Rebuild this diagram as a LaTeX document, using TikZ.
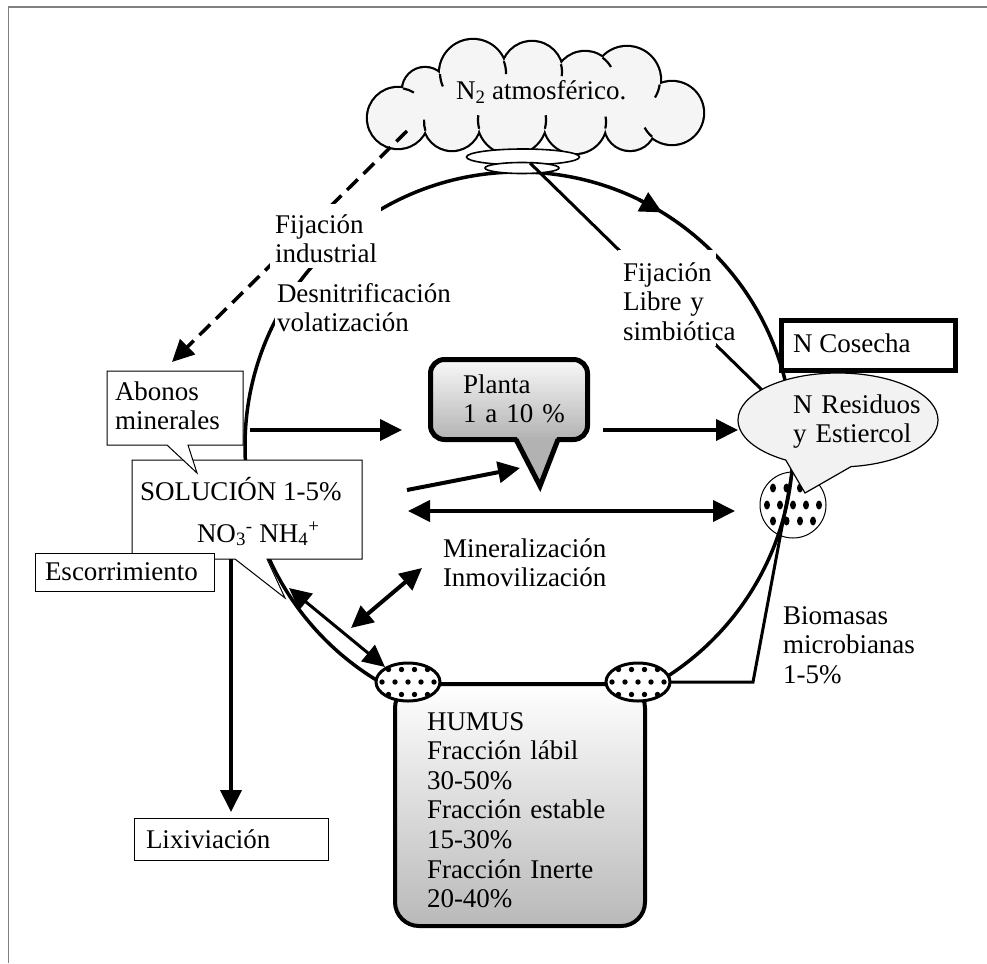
\documentclass[tikz,border=0pt]{standalone}
\usepackage{fontspec}
\setmainfont{Liberation Serif}
\usetikzlibrary{shapes.geometric,shapes.callouts,arrows.meta,calc}
% dotted fill of the two humus pools: rows of 4, 5 and 4 dots
\newcommand{\poolDots}[2]{%
  \foreach \dx in {-19.5,-6.5,6.5,19.5}{%
    \fill (#1+\dx,#2-12.5) circle[radius=2.7];
    \fill (#1+\dx,#2+12.5) circle[radius=2.7];}%
  \foreach \dx in {-26,-13,0,13,26}{\fill (#1+\dx,#2) circle[radius=2.7];}}
% puffs of the atmosphere cloud: centre x, centre y, radius
\newcommand{\cloudPuffs}{398/118/30, 425/90/22, 473/73/33, 532/72/30, 585/82/30,
  627/80/33, 672/113/31, 630/125/25, 575/122/31, 512/120/34, 452/122/28}
% short inner strokes where two puffs meet: centre x, centre y, radius, from, to
\newcommand{\cloudSeams}{398/118/30/-80/-58, 473/73/33/178/156, 473/73/33/-21/2,
  532/72/30/-15/8, 585/82/30/-54/-30, 627/80/33/8/32, 672/113/31/130/152,
  575/122/31/12/-10, 512/120/34/15/-8, 512/120/34/165/188, 452/122/28/162/185}
\begin{document}
\begin{tikzpicture}[x=1pt,y=-1pt,
  every node/.style={font=\fontsize{27pt}{29.6pt}\selectfont, inner sep=0pt, outer sep=0pt},
  lbl/.style={anchor=base west, align=left, text width=260pt},
  thinbox/.style={draw, line width=1pt, fill=white, align=left},
  heavy/.style={line width=4pt},
  tip/.style={-{Triangle[length=22pt,width=21pt]}},
  tips/.style={{Triangle[length=22pt,width=21pt]}-{Triangle[length=22pt,width=21pt]}},
  pool/.style={ellipse, draw, line width=3pt, fill=white, minimum width=64pt, minimum height=38pt},
  disc/.style={ellipse, draw, line width=1.6pt, fill=white},
]
\useasboundingbox (0,0) rectangle (987,963);
% page frame
\draw[gray, line width=1.8pt] (987,7) -- (8.5,7) -- (8.5,963);

% microbial biomass pool
\node[circle, draw, line width=1pt, fill=white, minimum size=66pt] (micro) at (793,505) {};
\foreach \dx in {-20,-6.5,7}{\fill (793+\dx,488) ellipse[x radius=3, y radius=4.5];}
\foreach \dx in {-26,-13,0,13,26}{\fill (793+\dx,505) ellipse[x radius=3, y radius=4.5];}
\foreach \dx in {-20,-6.5,7,20}{\fill (793+\dx,521) ellipse[x radius=3, y radius=4.5];}

% the nitrogen cycle
\coordinate (ctr) at (519,446);
\draw[line width=3.5pt] (ctr) circle[radius=274];
\draw[line width=3.5pt, tip] ($(ctr)+(-64:274)$) -- ($(ctr)+(-58.5:274)$);

% atmosphere: outline of the union of the puffs, their light fill, then the seams
\foreach \cx/\cy/\r in \cloudPuffs {\draw[line width=4.4pt] (\cx,\cy) circle[radius=\r];}
\foreach \cx/\cy/\r in \cloudPuffs {\fill[gray!8] (\cx,\cy) circle[radius=\r];}
\fill[gray!8] (535,100) ellipse[x radius=130, y radius=28];
\foreach \cx/\cy/\r/\a/\b in \cloudSeams
  {\draw[line width=2.2pt] (\cx,\cy) ++(\a:\r) arc[start angle=\a, end angle=\b, radius=\r];}
\coordinate (atm) at (536,97);
\node[anchor=base west] (atmlbl) at (456,100) {N\textsubscript{2} atmosférico.};

% industrial fixation
\coordinate (dashA) at (407,131);
\coordinate (dashB) at (172,362);
\draw[line width=3.5pt, dash pattern=on 15pt off 8pt, tip] (dashA) -- (dashB);

\node[disc, minimum width=113pt, minimum height=16pt] (disc1) at (523,157) {};
\node[disc, minimum width=74pt, minimum height=11pt] (disc2) at (522,168) {};

% free and symbiotic fixation
\coordinate (fixA) at (530,163);
\coordinate (fixB) at (762,390);
\draw[line width=3pt] (fixA) -- (fixB);

% white grounds behind the process labels
\fill[white] (270,204) rectangle (381,268);
\fill[white] (275,282) rectangle (455,342);
\fill[white] (618,250) rectangle (716,346);
\node[lbl] (fijind) at (275,233) {Fijación\\industrial};
\node[lbl] (desnit) at (277,302) {Desnitrificación\\volatización};
\node[lbl] (fijlib) at (623,281) {Fijación\\Libre y\\simbiótica};

% soil solution
\coordinate (solpt) at (285,598);
\draw[line width=1pt, fill=white] (132,460) -- (362,460) -- (362,559) -- (267,559)
  -- (solpt) -- (235,559) -- (132,559) -- cycle;
\node[anchor=base west] (sol1) at (140,500) {SOLUCIÓN 1-5\%};
\node[anchor=base west] (sol2) at (197,542) {NO\textsubscript{3}\textsuperscript{-} NH\textsubscript{4}\textsuperscript{+}};

% mineral fertilisers
\coordinate (abopt) at (197,473);
\draw[line width=1pt, fill=white] (107,371) -- (243,371) -- (243,445) -- (188,445)
  -- (abopt) -- (167,445) -- (107,445) -- cycle;
\node[lbl] (abonos) at (115,400) {Abonos\\minerales};

% runoff
\node[thinbox, text width=159pt, inner xsep=10pt, minimum height=38pt] (escor) at (124.5,572) {Escorrimiento};

% plant
\node[draw, line width=5pt, rounded corners=14pt, top color=gray!5, bottom color=gray!60,
      minimum width=157pt, minimum height=80pt] (planta) at (509,399.5) {};
\fill[gray!60] (517,437) -- (540,485) -- (557,437) -- cycle;
\draw[line width=5pt, line join=miter] (516,439.5) -- (540,486) -- (558,439.5);
\node[lbl] (plantalbl) at (463,393) {Planta\\1 a 10 \%};

% humus
\node[draw, line width=4pt, rounded corners=24pt, top color=white, bottom color=gray!55,
      minimum width=250pt, minimum height=242pt] (humus) at (520,805) {};
\node[pool] (poolL) at (408,682) {};
\node[pool] (poolR) at (638,682) {};
\poolDots{408}{682}
\poolDots{638}{682}
\node[lbl] (humuslbl) at (427,730) {HUMUS\\Fracción lábil\\30-50\%\\Fracción estable\\15-30\%\\Fracción Inerte\\20-40\%};

% microbial biomass link
\coordinate (bioA) at (753,682);
\coordinate (bioB) at (793,468);
\draw[line width=3pt, line join=miter] (poolR.east) -- (bioA) -- (bioB);
\node[lbl] (biomasas) at (783,624) {Biomasas\\microbianas\\1-5\%};

% harvest and residues
\node[draw, line width=5pt, fill=white, minimum width=174pt, minimum height=50pt] (cosecha) at (868.5,345.5) {};
\node[anchor=base west] (cosechalbl) at (793,352) {N Cosecha};
\node[ellipse callout, draw, line width=1.2pt, fill=gray!10, minimum width=200pt, minimum height=94pt,
      callout absolute pointer={(805,493)}, callout pointer arc=39] (resid) at (838,420) {};
\node[lbl] (residlbl) at (793,413) {N Residuos\\y Estiercol};

% flows
\coordinate (aL) at (250,430);  \coordinate (aR) at (402,430);
\coordinate (bL) at (603,430);  \coordinate (bR) at (738,430);
\coordinate (cL) at (407,490);  \coordinate (cR) at (520,468);
\coordinate (dL) at (408,511);  \coordinate (dR) at (735,511);
\coordinate (eL) at (351,628);  \coordinate (eR) at (422,568);
\coordinate (fA) at (289,588);  \coordinate (fB) at (385,667);
\draw[heavy, tip] (aL) -- (aR);
\draw[heavy, tip] (bL) -- (bR);
\draw[heavy, tip] (cL) -- (cR);
\draw[heavy, tips] (dL) -- (dR);
\draw[heavy, tips] (eL) -- (eR);
\draw[line width=3pt, tips] (fA) -- (fB);
\node[lbl] (mineral) at (443,557) {Mineralización\\Inmovilización};

% leaching
\coordinate (solbot) at (231,559);
\node[thinbox, text width=170pt, inner xsep=12pt, minimum height=42pt] (lixi) at (231,839) {Lixiviación};
\draw[heavy, tip] (solbot) -- ([yshift=6pt]lixi.north);
\end{tikzpicture}
\end{document}
